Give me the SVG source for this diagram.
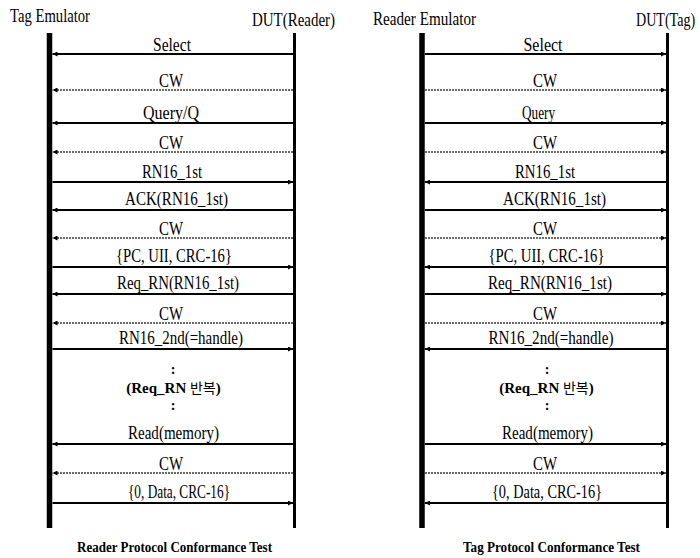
<svg xmlns="http://www.w3.org/2000/svg" width="700" height="558" viewBox="0 0 700 558">
<style>
  .bg{fill:#ffffff}
  text{font-family:'Liberation Serif','Tinos','DejaVu Serif',serif;fill:#000}
  .t{font-size:19px}
  .m{text-anchor:middle}
  .b{font-weight:bold}
  .c{font-size:14px;font-weight:bold;text-anchor:middle}
  .ko{font-family:'Noto Sans CJK KR','Noto Sans',sans-serif;font-weight:normal;font-size:14px}
  .ttl{font-size:15px;font-weight:bold}
  .thick{stroke:#000;stroke-width:5.5}
  .thin{stroke:#000;stroke-width:3}
  .msg{stroke:#000;stroke-width:1.8;fill:none;marker-end:url(#ah)}
  .cw{stroke:#3a3a3a;stroke-width:1.6;stroke-dasharray:2 1;fill:none;marker-end:url(#ah)}
</style>
<defs>
  <marker id="ah" viewBox="0 0 5 5" refX="5" refY="2.5" markerWidth="5" markerHeight="5" orient="auto" markerUnits="userSpaceOnUse">
    <path d="M0,0 L5,2.5 L0,5 z" fill="#000"/>
  </marker>
</defs>
<rect class="bg" x="0" y="0" width="700" height="558"/>

<g id="tag-emulator">
  <line class="thick" x1="49.5" y1="33" x2="49.5" y2="528"/>
  <text class="t" x="10" y="22" textLength="80" lengthAdjust="spacingAndGlyphs">Tag Emulator</text>
</g>
<g id="dut-reader">
  <line class="thin" x1="294.5" y1="33" x2="294.5" y2="528"/>
  <text class="t" x="252" y="25.5" textLength="83" lengthAdjust="spacingAndGlyphs">DUT(Reader)</text>
</g>
<g id="reader-emulator">
  <line class="thick" x1="422" y1="33" x2="422" y2="528"/>
  <text class="t" x="373" y="25" textLength="103" lengthAdjust="spacingAndGlyphs">Reader Emulator</text>
</g>
<g id="dut-tag">
  <line class="thin" x1="667.5" y1="33" x2="667.5" y2="528"/>
  <text class="t" transform="translate(636,25.5) scale(0.74,1)" x="0" y="0">DUT(Tag)</text>
</g>

<g id="connectors">
  <!-- left panel -->
  <line class="msg" x1="293" y1="54" x2="52.5" y2="54"/>
  <line class="cw" x1="293" y1="90" x2="52.5" y2="90"/>
  <line class="msg" x1="293" y1="123" x2="52.5" y2="123"/>
  <line class="cw" x1="293" y1="152" x2="52.5" y2="152"/>
  <line class="msg" x1="52.5" y1="182" x2="293" y2="182"/>
  <line class="msg" x1="293" y1="210" x2="52.5" y2="210"/>
  <line class="cw" x1="293" y1="238" x2="52.5" y2="238"/>
  <line class="msg" x1="52.5" y1="267" x2="293" y2="267"/>
  <line class="msg" x1="293" y1="294" x2="52.5" y2="294"/>
  <line class="cw" x1="293" y1="323" x2="52.5" y2="323"/>
  <line class="msg" x1="52.5" y1="349" x2="293" y2="349"/>
  <line class="msg" x1="293" y1="444" x2="52.5" y2="444"/>
  <line class="cw" x1="293" y1="473" x2="52.5" y2="473"/>
  <line class="msg" x1="52.5" y1="503" x2="293" y2="503"/>
  <!-- right panel -->
  <line class="msg" x1="425" y1="54" x2="666" y2="54"/>
  <line class="cw" x1="425" y1="90" x2="666" y2="90"/>
  <line class="msg" x1="425" y1="123" x2="666" y2="123"/>
  <line class="cw" x1="425" y1="152" x2="666" y2="152"/>
  <line class="msg" x1="666" y1="182" x2="425" y2="182"/>
  <line class="msg" x1="425" y1="210" x2="666" y2="210"/>
  <line class="cw" x1="425" y1="238" x2="666" y2="238"/>
  <line class="msg" x1="666" y1="267" x2="425" y2="267"/>
  <line class="msg" x1="425" y1="294" x2="666" y2="294"/>
  <line class="cw" x1="425" y1="323" x2="666" y2="323"/>
  <line class="msg" x1="666" y1="349" x2="425" y2="349"/>
  <line class="msg" x1="425" y1="444" x2="666" y2="444"/>
  <line class="cw" x1="425" y1="473" x2="666" y2="473"/>
  <line class="msg" x1="666" y1="503" x2="425" y2="503"/>
</g>

<g id="labels-left">
  <text class="t m" x="172" y="50.5" textLength="38" lengthAdjust="spacingAndGlyphs">Select</text>
  <text class="t m" x="171" y="86.5" textLength="24" lengthAdjust="spacingAndGlyphs">CW</text>
  <text class="t m" x="171" y="119" textLength="56" lengthAdjust="spacingAndGlyphs">Query/Q</text>
  <text class="t m" x="171" y="148.5" textLength="24" lengthAdjust="spacingAndGlyphs">CW</text>
  <text class="t m" x="172" y="177.5" textLength="60" lengthAdjust="spacingAndGlyphs">RN16_1st</text>
  <text class="t m" x="176.5" y="205" textLength="103" lengthAdjust="spacingAndGlyphs">ACK(RN16_1st)</text>
  <text class="t m" x="171" y="234.5" textLength="24" lengthAdjust="spacingAndGlyphs">CW</text>
  <text class="t m" x="174" y="262" textLength="116" lengthAdjust="spacingAndGlyphs">{PC, UII, CRC-16}</text>
  <text class="t m" x="178" y="289" textLength="122" lengthAdjust="spacingAndGlyphs">Req_RN(RN16_1st)</text>
  <text class="t m" x="171" y="319.5" textLength="24" lengthAdjust="spacingAndGlyphs">CW</text>
  <text class="t m" x="181" y="344" textLength="124" lengthAdjust="spacingAndGlyphs">RN16_2nd(=handle)</text>
  <text class="c" x="173" y="374">:</text>
  <text class="t m b" x="173.5" y="392.5" style="font-size:15px"><tspan>(Req_RN </tspan><tspan class="ko">반복</tspan><tspan>)</tspan></text>
  <text class="c" x="173" y="410">:</text>
  <text class="t m" x="173.5" y="439" textLength="91" lengthAdjust="spacingAndGlyphs">Read(memory)</text>
  <text class="t m" x="171" y="469.5" textLength="24" lengthAdjust="spacingAndGlyphs">CW</text>
  <text class="t m" x="179" y="498" textLength="102" lengthAdjust="spacingAndGlyphs">{0, Data, CRC-16}</text>
  <text class="ttl m" x="174.5" y="552" textLength="195" lengthAdjust="spacingAndGlyphs">Reader Protocol Conformance Test</text>
</g>

<g id="labels-right">
  <text class="t m" x="543" y="50.5" textLength="39" lengthAdjust="spacingAndGlyphs">Select</text>
  <text class="t m" x="545" y="86.5" textLength="24" lengthAdjust="spacingAndGlyphs">CW</text>
  <text class="t m" x="538.5" y="119" textLength="33" lengthAdjust="spacingAndGlyphs">Query</text>
  <text class="t m" x="545" y="148.5" textLength="24" lengthAdjust="spacingAndGlyphs">CW</text>
  <text class="t m" x="545" y="177.5" textLength="60" lengthAdjust="spacingAndGlyphs">RN16_1st</text>
  <text class="t m" x="554.5" y="205" textLength="103" lengthAdjust="spacingAndGlyphs">ACK(RN16_1st)</text>
  <text class="t m" x="545" y="234.5" textLength="24" lengthAdjust="spacingAndGlyphs">CW</text>
  <text class="t m" x="546.5" y="262" textLength="116" lengthAdjust="spacingAndGlyphs">{PC, UII, CRC-16}</text>
  <text class="t m" x="550" y="289" textLength="124" lengthAdjust="spacingAndGlyphs">Req_RN(RN16_1st)</text>
  <text class="t m" x="545" y="319.5" textLength="24" lengthAdjust="spacingAndGlyphs">CW</text>
  <text class="t m" x="551" y="344" textLength="125" lengthAdjust="spacingAndGlyphs">RN16_2nd(=handle)</text>
  <text class="c" x="547" y="374">:</text>
  <text class="t m b" x="546.5" y="392.5" style="font-size:15px"><tspan>(Req_RN </tspan><tspan class="ko">반복</tspan><tspan>)</tspan></text>
  <text class="c" x="547" y="410">:</text>
  <text class="t m" x="547.5" y="439" textLength="91" lengthAdjust="spacingAndGlyphs">Read(memory)</text>
  <text class="t m" x="545" y="469.5" textLength="24" lengthAdjust="spacingAndGlyphs">CW</text>
  <text class="t m" x="547" y="498" textLength="110" lengthAdjust="spacingAndGlyphs">{0, Data, CRC-16}</text>
  <text class="ttl m" x="551.5" y="552" textLength="177" lengthAdjust="spacingAndGlyphs">Tag Protocol Conformance Test</text>
</g>
</svg>
